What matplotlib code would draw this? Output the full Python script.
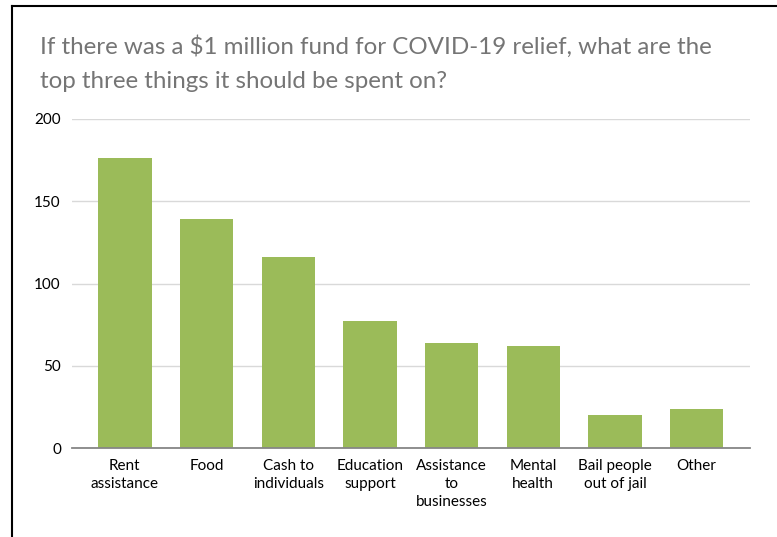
import matplotlib.pyplot as plt
from matplotlib.lines import Line2D

categories = ["Rent\nassistance", "Food", "Cash to\nindividuals", "Education\nsupport",
              "Assistance\nto\nbusinesses", "Mental\nhealth", "Bail people\nout of jail", "Other"]
values = [176, 139, 116, 77, 64, 62, 20, 24]
yticks = [0, 50, 100, 150, 200]

plt.rcParams['font.family'] = ['Lato', 'DejaVu Sans']

fig = plt.figure(figsize=(7.77, 5.37), dpi=100)
W, H = 777, 537

# frame lines on the top and left edges (from the screenshot)
fig.add_artist(Line2D([12 / W, 1], [1 - 6 / H, 1 - 6 / H], color='black', lw=1.5))
fig.add_artist(Line2D([12 / W, 12 / W], [0, 1 - 6 / H], color='black', lw=1.5))

ax = fig.add_axes([72 / W, 1 - 448 / H, (750 - 72) / W, (448 - 119) / H])
x = range(len(categories))
ax.bar(x, values, width=0.653, color='#9BBB59', zorder=3)

ax.set_ylim(0, 200)
ax.set_xlim(-0.647, 7.653)
ax.set_yticks(yticks)
ax.set_xticks(list(x))
ax.set_xticklabels(categories, fontsize=11, linespacing=1.35)
ax.tick_params(axis='both', length=0, labelsize=11, colors='#000000')
ax.tick_params(axis='x', pad=8)
ax.tick_params(axis='y', pad=8)
ax.grid(axis='y', color='#d9d9d9', lw=1, zorder=0)
for s in ['top', 'right', 'left']:
    ax.spines[s].set_visible(False)
ax.spines['bottom'].set_color('#868686')
ax.spines['bottom'].set_linewidth(1.3)
ax.spines['bottom'].set_zorder(4)

fig.text(40 / W, 1 - 35 / H,
         "If there was a $1 million fund for COVID-19 relief, what are the\n"
         "top three things it should be spent on?",
         fontsize=17.4, color='#757575', va='top', ha='left', linespacing=1.8)

fig.savefig('out.png', dpi=100)
